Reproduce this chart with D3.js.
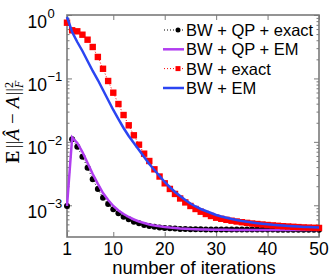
<!DOCTYPE html>
<html>
<head>
<meta charset="utf-8">
<script src="https://cdn.jsdelivr.net/npm/d3@7"></script>
<style>
  body { margin: 0; background: #fff; }
  svg { display: block; }
  text { font-family: "Liberation Sans", Arial, sans-serif; fill: #000; }
</style>
</head>
<body>
<div id="chart"></div>
<script>
// iterations 1..50
const iterations = d3.range(1, 51);
const xTicks = [1, 10, 20, 30, 40, 50];
const yTickExps = [0, -1, -2, -3];

const seriesNames = ['BW + QP + exact', 'BW + QP + EM', 'BW + exact', 'BW + EM'];

// BW + QP + exact (black dots, dotted)
const bwQpExact = [
  0.000975, 0.01097, 0.00839, 0.00583, 0.00391, 0.00257, 0.00181, 0.001317, 0.001048, 0.000865,
  0.000748, 0.000661, 0.000601, 0.000551, 0.000520, 0.000489, 0.000472, 0.000458, 0.000448, 0.000440,
  0.000434, 0.000429, 0.000424, 0.000421, 0.000420, 0.000419, 0.000418, 0.000417, 0.000417, 0.000416,
  0.000416, 0.000416, 0.000415, 0.000415, 0.000415, 0.000415, 0.000414, 0.000414, 0.000414, 0.000414,
  0.000414, 0.000413, 0.000413, 0.000413, 0.000413, 0.000413, 0.000413, 0.000412, 0.000412, 0.000412
];
// BW + QP + EM (purple line)
const bwQpEm = [
  0.000975, 0.01172, 0.00960, 0.00692, 0.00464, 0.00311, 0.00217, 0.00156, 0.00121, 0.000975,
  0.000828, 0.000729, 0.000654, 0.000597, 0.000555, 0.000526, 0.000498, 0.000480, 0.000466, 0.000455,
  0.000445, 0.000439, 0.000432, 0.000428, 0.000423, 0.000420, 0.000417, 0.000415, 0.000413, 0.000412,
  0.000411, 0.000410, 0.000409, 0.000409, 0.000408, 0.000408, 0.000408, 0.000407, 0.000407, 0.000407,
  0.000407, 0.000407, 0.000406, 0.000406, 0.000406, 0.000406, 0.000406, 0.000406, 0.000406, 0.000406
];
// BW + exact (red squares, dotted)
const bwExact = [
  0.756, 0.574, 0.553, 0.489, 0.408, 0.313, 0.218, 0.142, 0.0911, 0.0596,
  0.0395, 0.0265, 0.01824, 0.01269, 0.00902, 0.00651, 0.00499, 0.00369, 0.00284, 0.00222,
  0.00181, 0.00151, 0.00128, 0.00111, 0.000975, 0.000874, 0.000792, 0.000729, 0.000678, 0.000637,
  0.000612, 0.000590, 0.000571, 0.000555, 0.000541, 0.000528, 0.000516, 0.000507, 0.000498, 0.000489,
  0.000482, 0.000475, 0.000468, 0.000463, 0.000458, 0.000453, 0.000448, 0.000445, 0.000442, 0.000439
];
// BW + EM (blue line)
const bwEm = [
  0.930, 0.540, 0.375, 0.2707, 0.1883, 0.1310, 0.0944, 0.0657, 0.0457, 0.0318,
  0.0229, 0.01654, 0.01237, 0.00960, 0.00744, 0.00577, 0.00448, 0.00360, 0.00290, 0.00233,
  0.00194, 0.00162, 0.00140, 0.00121, 0.001067, 0.000957, 0.000874, 0.000813, 0.000756, 0.000703,
  0.000666, 0.000635, 0.000608, 0.000586, 0.000565, 0.000549, 0.000535, 0.000522, 0.000511, 0.000502,
  0.000492, 0.000485, 0.000478, 0.000472, 0.000466, 0.000461, 0.000456, 0.000453, 0.000450, 0.000447
];

const width = 332, height = 280;
const plotL = 67, plotR = 319, plotT = 15, plotB = 237;
const axisColor = '#7a7a7a';
const purple = '#b13df0', blue = '#2b45f2', red = '#ff0000';

const svg = d3.select('#chart').append('svg')
    .attr('width', width)
    .attr('height', height);

const x = d3.scaleLinear().domain([1, 50]).range([plotL, plotR]);
const y = d3.scaleLog().domain([Math.pow(10, -3.5), 1]).range([plotB, plotT]);

// minor log ticks
let minorTicks = [];
for (let e = -4; e < 0; e++) {
    for (let k = 2; k <= 9; k++) {
        const v = k * Math.pow(10, e);
        if (v >= Math.pow(10, -3.5)) minorTicks.push(v);
    }
}
const majorTicks = yTickExps.map(e => Math.pow(10, e));

function styleAxis(g) {
    g.select('.domain').remove();
    g.selectAll('line').attr('stroke', axisColor).attr('stroke-width', 1);
}

svg.append('g').attr('transform', `translate(0,${plotB})`)
    .call(d3.axisBottom(x).tickValues(xTicks).tickSizeInner(-5).tickSizeOuter(0).tickFormat(''))
    .call(styleAxis);
svg.append('g').attr('transform', `translate(0,${plotT})`)
    .call(d3.axisTop(x).tickValues(xTicks).tickSizeInner(-5).tickSizeOuter(0).tickFormat(''))
    .call(styleAxis);
svg.append('g').attr('transform', `translate(${plotL},0)`)
    .call(d3.axisLeft(y).tickValues(majorTicks).tickSizeInner(-5).tickSizeOuter(0).tickFormat(''))
    .call(styleAxis);
svg.append('g').attr('transform', `translate(${plotL},0)`)
    .call(d3.axisLeft(y).tickValues(minorTicks).tickSizeInner(-2.5).tickSizeOuter(0).tickFormat(''))
    .call(styleAxis);
svg.append('g').attr('transform', `translate(${plotR},0)`)
    .call(d3.axisRight(y).tickValues(majorTicks).tickSizeInner(-5).tickSizeOuter(0).tickFormat(''))
    .call(styleAxis);
svg.append('g').attr('transform', `translate(${plotR},0)`)
    .call(d3.axisRight(y).tickValues(minorTicks).tickSizeInner(-2.5).tickSizeOuter(0).tickFormat(''))
    .call(styleAxis);

// frame
svg.append('rect')
    .attr('x', plotL).attr('y', plotT)
    .attr('width', plotR - plotL).attr('height', plotB - plotT)
    .attr('fill', 'none')
    .attr('stroke', axisColor)
    .attr('stroke-width', 1.6);

// x tick labels
svg.append('g').selectAll('text')
    .data(xTicks)
    .enter().append('text')
    .attr('x', d => x(d))
    .attr('y', 255)
    .attr('text-anchor', 'middle')
    .attr('font-size', 17.5)
    .text(d => d);

// y tick labels 10^e
const yLab = svg.append('g').selectAll('g')
    .data(yTickExps)
    .enter().append('g');
yLab.append('text')
    .attr('x', 47)
    .attr('y', d => y(Math.pow(10, d)) + 12.5)
    .attr('text-anchor', 'end')
    .attr('font-size', 17.5)
    .text('10');
yLab.append('text')
    .attr('x', 47.5)
    .attr('y', d => y(Math.pow(10, d)) + 3)
    .attr('font-size', 13)
    .text(d => d < 0 ? '\u2212' + (-d) : d);

// x label
svg.append('text')
    .attr('x', (plotL + plotR) / 2 + 1)
    .attr('y', 274)
    .attr('text-anchor', 'middle')
    .attr('font-size', 18.5)
    .text('number of iterations');

// y label
const ylab = svg.append('text')
    .attr('transform', 'translate(18.5,122) rotate(-90)')
    .attr('text-anchor', 'middle')
    .style('font-family', '"Liberation Serif", "Times New Roman", serif')
    .attr('font-size', 19);
ylab.append('tspan').attr('font-weight', 'bold').text('E');
ylab.append('tspan').attr('dx', 2.5).text('||');
ylab.append('tspan').attr('font-style', 'italic').text('\u00C2');
ylab.append('tspan').attr('dx', 5).text('\u2212');
ylab.append('tspan').attr('dx', 5).attr('font-style', 'italic').text('A');
ylab.append('tspan').attr('dx', 1).text('||');
ylab.append('tspan').attr('dy', -6).attr('font-size', 12).text('2');
ylab.append('tspan').attr('dx', -6).attr('dy', 10).attr('font-size', 12).attr('font-style', 'italic').text('F');

// series
const line = d3.line()
    .x((d, i) => x(iterations[i]))
    .y(d => y(d));

const plot = svg.append('g');

// BW + QP + exact
plot.append('path').datum(bwQpExact)
    .attr('d', line).attr('fill', 'none')
    .attr('stroke', '#000').attr('stroke-width', 1)
    .attr('stroke-dasharray', '1,2');
plot.append('g').selectAll('circle')
    .data(bwQpExact).enter().append('circle')
    .attr('cx', (d, i) => x(iterations[i]))
    .attr('cy', d => y(d))
    .attr('r', 3)
    .attr('fill', '#000');

// BW + QP + EM
plot.append('path').datum(bwQpEm)
    .attr('d', line).attr('fill', 'none')
    .attr('stroke', purple).attr('stroke-width', 2.5);

// BW + exact
plot.append('path').datum(bwExact)
    .attr('d', line).attr('fill', 'none')
    .attr('stroke', red).attr('stroke-width', 1)
    .attr('stroke-dasharray', '1,2');
plot.append('g').selectAll('rect')
    .data(bwExact).enter().append('rect')
    .attr('x', (d, i) => x(iterations[i]) - 3.2)
    .attr('y', d => y(d) - 3.2)
    .attr('width', 6.4).attr('height', 6.4)
    .attr('fill', red);

// BW + EM
plot.append('path').datum(bwEm)
    .attr('d', line).attr('fill', 'none')
    .attr('stroke', blue).attr('stroke-width', 2.5);

// legend
const legendRows = [30, 49.3, 68.6, 88];
const lg = svg.append('g');
seriesNames.forEach((name, i) => {
    const cy = legendRows[i];
    const row = lg.append('g');
    if (i === 0 || i === 2) {
        const c = i === 0 ? '#000' : red;
        row.append('line')
            .attr('x1', 164).attr('x2', 184).attr('y1', cy).attr('y2', cy)
            .attr('stroke', c).attr('stroke-width', 1).attr('stroke-dasharray', '1,2');
        if (i === 0) {
            row.append('circle').attr('cx', 178).attr('cy', cy).attr('r', 2.5).attr('fill', c);
        } else {
            row.append('rect').attr('x', 175.5).attr('y', cy - 2.5).attr('width', 5).attr('height', 5).attr('fill', c);
        }
    } else {
        row.append('line')
            .attr('x1', 163).attr('x2', 184).attr('y1', cy).attr('y2', cy)
            .attr('stroke', i === 1 ? purple : blue).attr('stroke-width', 2.5);
    }
    row.append('text')
        .attr('x', 186).attr('y', cy + 6)
        .attr('font-size', 16.5)
        .text(name);
});
</script>
</body>
</html>
